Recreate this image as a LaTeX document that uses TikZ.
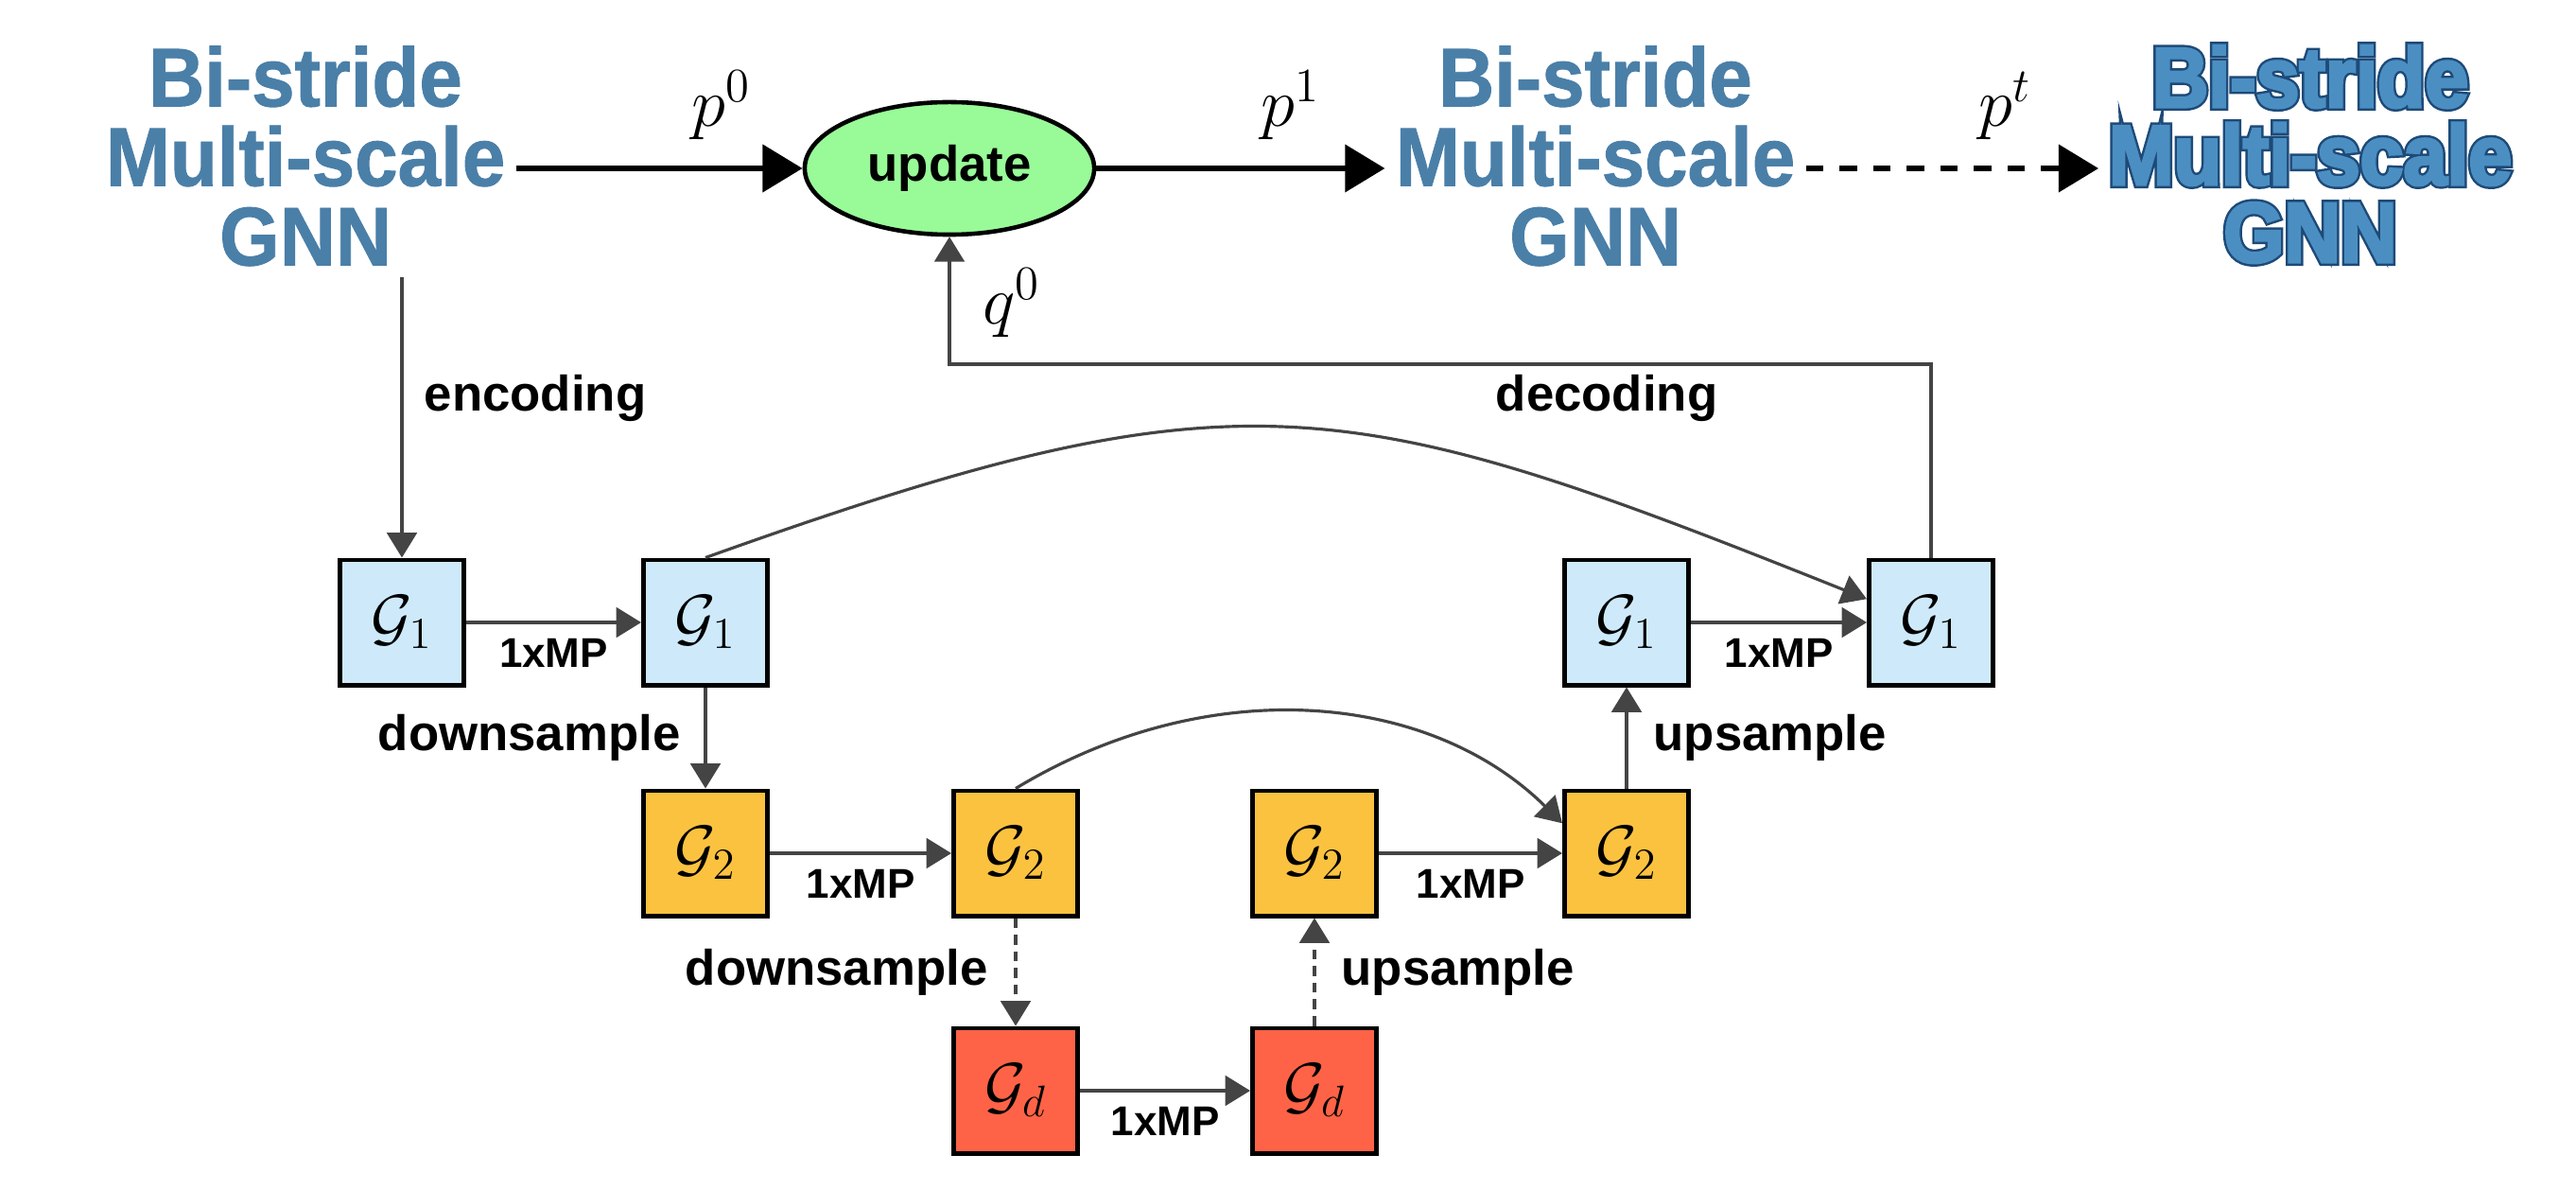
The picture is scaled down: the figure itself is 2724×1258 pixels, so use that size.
\RequirePackage{fix-cm}
\documentclass[tikz,border=0pt]{standalone}
\usepackage{fontspec}
\usetikzlibrary{arrows.meta,shapes.geometric,calc}
\newfontfamily\lsans{Liberation Sans}
\newfontfamily\gnnfont[FakeStretch=0.93,FakeBold=1]{Liberation Sans Bold}
\newfontfamily\gnnfontdark[FakeStretch=0.92,FakeBold=9]{Liberation Sans Bold}
\newfontfamily\gnnfontlight[FakeStretch=0.92,FakeBold=3.5]{Liberation Sans Bold}
\definecolor{boxblue}{HTML}{CEEAFA}
\definecolor{boxorange}{HTML}{FBC240}
\definecolor{boxred}{HTML}{FF6347}
\definecolor{updgreen}{HTML}{98FB98}
\definecolor{connc}{HTML}{444444}
\definecolor{gnnblue}{HTML}{4A7FA8}
\definecolor{gnnlight}{HTML}{4B8FC2}
\definecolor{gnndark}{HTML}{1E4A78}
\begin{document}
\begin{tikzpicture}[x=0.01cm,y=0.01cm,
  gbox/.style={draw=black, line width=1.4pt, minimum width=1.31cm, minimum height=1.32cm, inner sep=0pt, font=\fontsize{19}{22}\selectfont},
  bone/.style={gbox, fill=boxblue},
  btwo/.style={gbox, fill=boxorange},
  bdee/.style={gbox, fill=boxred},
  conn/.style={draw=connc, line width=0.9pt, -{Triangle[length=7.5pt,width=9pt]}},
  dconn/.style={conn, dash pattern=on 3pt off 2pt},
  bigarrow/.style={draw=black, line width=1.9pt, -{Triangle[length=12pt,width=14pt]}},
  lab/.style={font=\lsans\bfseries\fontsize{15}{18}\selectfont, inner sep=0pt},
  mplab/.style={font=\lsans\bfseries\fontsize{12.5}{15}\selectfont, inner sep=0pt, yshift=-0.32cm},
  mathlab/.style={font=\fontsize{20.74}{24}\selectfont, inner sep=0pt, anchor=base},
  gnntxt/.style={align=center, inner sep=3pt, text=gnnblue, font=\gnnfont\fontsize{25}{23.9}\selectfont},
  gnndk/.style={align=center, inner sep=0.1cm, text=gnndark, font=\gnnfontdark\fontsize{25.5}{23.3}\selectfont},
  gnnlt/.style={align=center, inner sep=0.1cm, text=gnnlight, font=\gnnfontlight\fontsize{25.5}{23.3}\selectfont}
]
\fill[white] (0,0) rectangle (2724,-1258);

% GNN labels
\node[gnntxt] (gnnA) at (323,-165) {Bi-stride\\Multi-scale\\GNN};
\node[gnntxt] (gnnB) at (1687,-165) {Bi-stride\\Multi-scale\\GNN};
\node[gnndk] (gnnCshadow) at (2443,-163) {Bi-stride\\Multi-scale\\GNN};
\node[gnnlt] (gnnC) at (2443,-163) {Bi-stride\\Multi-scale\\GNN};

% update
\node[draw=black, line width=1.3pt, fill=updgreen, ellipse, minimum width=3.06cm, minimum height=1.40cm, inner sep=0pt, font=\lsans\bfseries\fontsize{15}{18}\selectfont] (upd) at (1004,-178) {update};

% boxes
\node[bone] (G1a) at (425,-658) {$\mathcal{G}_1$};
\node[bone] (G1b) at (746,-658) {$\mathcal{G}_1$};
\node[bone] (G1c) at (1720,-658) {$\mathcal{G}_1$};
\node[bone] (G1d) at (2042,-658) {$\mathcal{G}_1$};
\node[btwo] (G2a) at (746,-902) {$\mathcal{G}_2$};
\node[btwo] (G2b) at (1074,-902) {$\mathcal{G}_2$};
\node[btwo] (G2c) at (1390,-902) {$\mathcal{G}_2$};
\node[btwo] (G2d) at (1720,-902) {$\mathcal{G}_2$};
\node[bdee] (Gda) at (1074,-1153) {$\mathcal{G}_d$};
\node[bdee] (Gdb) at (1390,-1153) {$\mathcal{G}_d$};

% top arrows
\draw[bigarrow] (gnnA.east |- upd.west) -- (upd.west);
\draw[bigarrow] (upd.east) -- (gnnB.west |- upd.east);
\draw[bigarrow, dash pattern=on 5.3pt off 4.8pt] (gnnB.east |- upd.east) -- (gnnC.west |- upd.east);

\node[mathlab] (lp0) at (763,-134) {$p^0$};
\node[mathlab] (lp1) at (1365,-134) {$p^1$};
\node[mathlab] (lpt) at (2120,-134) {$p^t$};
\node[mathlab] (lq0) at (1070,-343) {$q^0$};

\node[lab] (lenc) at (566,-421) {encoding};
\node[lab] (ldec) at (1699,-421) {decoding};

% encoding / decoding
\draw[conn] (G1a.north |- gnnA.south) -- (G1a.north);
\coordinate (qbend) at (1500,-385);
\draw[conn] (G1d.north) -- (G1d.north |- qbend) -- (upd.south |- qbend) -- (upd.south);

% message passing
\draw[conn] (G1a) -- node[mplab] (mp1) {1xMP} (G1b);
\draw[conn] (G2a) -- node[mplab] (mp2) {1xMP} (G2b);
\draw[conn] (Gda) -- node[mplab] (mp3) {1xMP} (Gdb);
\draw[conn] (G2c) -- node[mplab] (mp4) {1xMP} (G2d);
\draw[conn] (G1c) -- node[mplab] (mp5) {1xMP} (G1d);

% down / up sampling
\draw[conn] (G1b) -- node[lab, left=0.25cm] (ds1) {downsample} (G2a);
\draw[dconn] (G2b) -- node[lab, left=0.28cm] (ds2) {downsample} (Gda);
\draw[dconn] (Gdb) -- node[lab, right=0.27cm] (us2) {upsample} (G2c);
\draw[conn] (G2d) -- node[lab, right=0.27cm] (us1) {upsample} (G1c);

% skip connections
\draw[conn] (G1b.north) .. controls (1312,-387) and (1420,-412) .. (G1d.160);
\draw[conn] (G2b.north) .. controls (1278,-710) and (1511,-731) .. (G2d.155);
\end{tikzpicture}
\end{document}
